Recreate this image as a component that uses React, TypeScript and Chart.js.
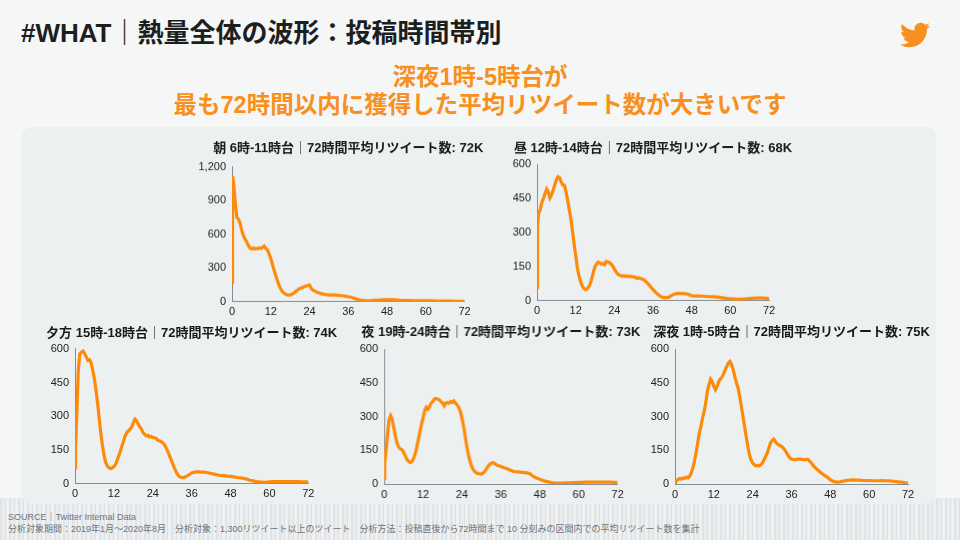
import React, { useEffect, useRef } from 'react';
import { Chart, registerables } from 'chart.js';

Chart.register(...registerables);

// hours after posting (finer steps at the start)
const hours = [
  0, 0.17,
  0.5, 1, 1.5, 2, 2.5, 3, 3.5, 4, 4.5, 5, 5.5, 6,
  6.5, 7, 7.5, 8, 8.5, 9, 9.5, 10, 10.5, 11, 11.5, 12,
  12.5, 13, 13.5, 14, 14.5, 15, 15.5, 16, 16.5, 17, 17.5, 18,
  18.5, 19, 19.5, 20, 20.5, 21, 21.5, 22, 22.5, 23, 23.5, 24,
  24.5, 25, 25.5, 26, 26.5, 27, 27.5, 28, 28.5, 29, 29.5, 30,
  30.5, 31, 31.5, 32, 32.5, 33, 33.5, 34, 34.5, 35, 35.5, 36,
  37, 38, 39, 40, 41, 42, 43, 44, 45, 46, 47, 48,
  49, 50, 51, 52, 53, 54, 55, 56, 57, 58, 59, 60,
  61, 62, 63, 64, 65, 66, 67, 68, 69, 70, 71, 72,
];

const xTicks = [0, 12, 24, 36, 48, 60, 72];

const morning = [
  175, 1120,
  1060, 880, 750, 735, 700, 640, 590, 560, 535, 505, 480, 470,
  478, 470, 476, 472, 480, 474, 485, 495, 475, 460, 425, 385,
  335, 285, 235, 193, 152, 118, 95, 80, 68, 62, 59, 60,
  65, 74, 84, 98, 108, 117, 124, 129, 136, 140, 146, 148,
  120, 105, 98, 90, 84, 78, 73, 69, 66, 63, 62, 60,
  60, 59, 61, 60, 58, 57, 55, 54, 52, 50, 47, 45,
  38, 30, 20, 12, 10, 9, 10, 12, 14, 16, 17, 18,
  18, 18, 16, 13, 11, 10, 10, 9, 9, 9, 9, 9,
  8, 8, 7, 6, 6, 6, 6, 6, 5, 5, 4, 3,
];

const noon = [
  59, 330,
  385, 400, 432, 450, 472, 491, 479, 452, 464, 486, 509, 531,
  545, 541, 523, 509, 508, 479, 442, 402, 361, 310, 251, 199,
  147, 111, 84, 66, 55, 49, 52, 59, 74, 96, 125, 150,
  162, 170, 165, 161, 164, 159, 172, 170, 167, 162, 152, 140,
  128, 118, 113, 111, 108, 110, 107, 109, 106, 108, 105, 106,
  103, 99, 101, 99, 96, 93, 88, 81, 74, 66, 57, 49,
  34, 22, 15, 13, 16, 25, 31, 32, 32, 31, 28, 22,
  21, 21, 20, 19, 18, 18, 17, 16, 14, 12, 10, 9,
  7, 6, 6, 7, 9, 10, 11, 12, 12, 12, 11, 10,
];

const evening = [
  71, 160,
  280, 503, 578, 585, 590, 578, 563, 548, 551, 536, 503, 466,
  414, 354, 287, 220, 168, 124, 94, 79, 71, 68, 71, 76,
  86, 104, 124, 146, 168, 191, 213, 228, 235, 243, 253, 272,
  287, 280, 265, 253, 243, 228, 220, 213, 216, 208, 211, 205,
  205, 202, 194, 191, 188, 183, 176, 164, 149, 131, 113, 94,
  76, 60, 45, 34, 30, 27, 28, 31, 34, 39, 43, 48,
  52, 54, 52, 52, 49, 46, 43, 39, 37, 36, 34, 33,
  31, 28, 27, 24, 21, 16, 13, 10, 9, 7, 7, 9,
  10, 10, 10, 10, 10, 10, 10, 10, 10, 9, 9, 9,
];

const night = [
  27, 90,
  138, 212, 286, 304, 286, 249, 212, 182, 164, 156, 153, 141,
  126, 111, 101, 96, 99, 111, 130, 160, 194, 230, 264, 293,
  327, 342, 333, 345, 360, 367, 378, 381, 378, 375, 367, 360,
  348, 360, 363, 360, 367, 363, 370, 360, 352, 342, 323, 293,
  256, 212, 167, 130, 101, 78, 64, 55, 49, 46, 46, 44,
  49, 56, 67, 78, 87, 93, 95, 93, 87, 83, 81, 78,
  73, 68, 61, 56, 55, 53, 52, 50, 46, 34, 27, 21,
  16, 12, 9, 6, 4, 4, 4, 6, 6, 7, 7, 8,
  8, 9, 9, 9, 9, 9, 9, 9, 9, 9, 8, 8,
];

const lateNight = [
  7, 12,
  16, 22, 25, 22, 27, 25, 31, 28, 34, 49, 71, 101,
  138, 182, 227, 256, 293, 323, 360, 412, 441, 467, 456, 434,
  419, 434, 456, 467, 475, 490, 508, 523, 538, 545, 530, 508,
  478, 449, 427, 390, 345, 301, 256, 212, 167, 130, 108, 93,
  86, 81, 84, 81, 86, 93, 108, 123, 138, 160, 182, 194,
  200, 190, 179, 175, 170, 167, 160, 150, 138, 126, 116, 111,
  108, 111, 111, 108, 111, 96, 78, 64, 52, 41, 31, 19,
  12, 9, 10, 13, 16, 18, 19, 18, 18, 16, 16, 16,
  15, 15, 15, 16, 15, 15, 13, 12, 10, 9, 7, 6,
];

const titles = [
  '朝 6時-11時台｜72時間平均リツイート数: 72K',
  '昼 12時-14時台｜72時間平均リツイート数: 68K',
  '夕方 15時-18時台｜72時間平均リツイート数: 74K',
  '夜 19時-24時台｜72時間平均リツイート数: 73K',
  '深夜 1時-5時台｜72時間平均リツイート数: 75K',
];
const seriesList = [morning, noon, evening, night, lateNight];
const yMaxes = [1200, 600, 600, 600, 600];
const ySteps = [300, 150, 150, 150, 150];

// where each small chart sits on the slide
const boxes = [
  { plotLeft: 231.5, plotTop: 167, plotW: 232.5, plotH: 134, titleY: 149 },
  { plotLeft: 537.3, plotTop: 164.3, plotW: 232, plotH: 135.7, titleY: 149 },
  { plotLeft: 75, plotTop: 348.3, plotW: 233.3, plotH: 135, titleY: 333.3 },
  { plotLeft: 384.3, plotTop: 349.3, plotW: 232.7, plotH: 135, titleY: 333 },
  { plotLeft: 675.3, plotTop: 349.3, plotW: 233, plotH: 135, titleY: 333 },
];

const FONT = '"Liberation Sans", "Noto Sans CJK JP", sans-serif';
const ORANGE = '#fd8b09';
const Y_W = 40;
const X_H = 20;
const TITLE_LH = 15.6;

type Box = { plotLeft: number; plotTop: number; plotW: number; plotH: number; titleY: number };

const MiniChart: React.FC<{ title: string; values: number[]; yMax: number; yStep: number; box: Box }> = ({
  title,
  values,
  yMax,
  yStep,
  box,
}) => {
  const chartRef = useRef<HTMLCanvasElement>(null);
  const chartInstance = useRef<Chart | null>(null);

  const top = box.titleY - TITLE_LH / 2;
  const titlePad = box.plotTop - top - TITLE_LH;
  const width = box.plotW + Y_W * 2;
  const height = TITLE_LH + titlePad + box.plotH + X_H;

  useEffect(() => {
    if (chartInstance.current) {
      chartInstance.current.destroy();
    }
    if (chartRef.current) {
      const ctx = chartRef.current.getContext('2d');
      if (ctx) {
        chartInstance.current = new Chart(ctx, {
          type: 'line',
          data: {
            datasets: [
              {
                data: hours.map((h, i) => ({ x: h, y: values[i] })),
                borderColor: ORANGE,
                borderWidth: 3.2,
                pointRadius: 0,
                tension: 0,
                fill: false,
              },
            ],
          },
          options: {
            responsive: true,
            maintainAspectRatio: false,
            animation: false,
            layout: { padding: 0 },
            plugins: {
              legend: { display: false },
              tooltip: { enabled: false },
              title: {
                display: true,
                text: title,
                color: '#1a1a1a',
                font: { family: FONT, size: 13, weight: 'bold', lineHeight: 1.2 },
                padding: { top: 0, bottom: titlePad },
              },
            },
            scales: {
              x: {
                type: 'linear',
                min: 0,
                max: 72,
                afterFit: (scale: any) => {
                  scale.height = X_H;
                },
                afterBuildTicks: (scale: any) => {
                  scale.ticks = xTicks.map((v) => ({ value: v }));
                },
                grid: { display: false, drawTicks: false },
                border: { display: true, color: '#8a8d8f', width: 1 },
                ticks: {
                  color: '#222',
                  padding: 4,
                  maxRotation: 0,
                  font: { family: FONT, size: 11 },
                },
              },
              y: {
                min: 0,
                max: yMax,
                afterFit: (scale: any) => {
                  scale.width = Y_W;
                },
                grid: { display: false, drawTicks: false },
                border: { display: true, color: '#8a8d8f', width: 1 },
                ticks: {
                  stepSize: yStep,
                  color: '#222',
                  padding: 6,
                  font: { family: FONT, size: 11 },
                  callback: (v: any) => Number(v).toLocaleString('en-US'),
                },
              },
              // empty right axis keeps the plot centred under its title
              spacer: {
                type: 'linear',
                position: 'right',
                display: true,
                afterFit: (scale: any) => {
                  scale.width = Y_W;
                },
                grid: { display: false, drawTicks: false },
                border: { display: false },
                ticks: { display: false },
              },
            },
          },
        });
      }
    }
    return () => {
      if (chartInstance.current) {
        chartInstance.current.destroy();
        chartInstance.current = null;
      }
    };
  }, [title, values, yMax, yStep]);

  return (
    <div
      style={{
        position: 'absolute',
        left: box.plotLeft - Y_W,
        top,
        width,
        height,
      }}
    >
      <canvas ref={chartRef}></canvas>
    </div>
  );
};

const TwitterBird: React.FC = () => (
  <svg
    viewBox="0 0 24 24"
    width={30}
    height={30}
    style={{ position: 'absolute', left: 900, top: 20 }}
  >
    <path
      fill="#f7901e"
      d="M23.953 4.57a10 10 0 01-2.825.775 4.958 4.958 0 002.163-2.723c-.951.555-2.005.959-3.127 1.184a4.92 4.92 0 00-8.384 4.482C7.69 8.095 4.067 6.13 1.64 3.162a4.822 4.822 0 00-.665 2.475c0 1.71.87 3.213 2.188 4.096a4.904 4.904 0 01-2.228-.616v.06a4.923 4.923 0 003.946 4.827 4.996 4.996 0 01-2.212.085 4.936 4.936 0 004.604 3.417 9.867 9.867 0 01-6.102 2.105c-.39 0-.779-.023-1.17-.067a13.995 13.995 0 007.557 2.209c9.053 0 13.998-7.496 13.998-13.985 0-.21 0-.42-.015-.63A9.935 9.935 0 0024 4.59z"
    />
  </svg>
);

export default function App() {
  return (
    <div
      style={{
        position: 'fixed',
        left: 0,
        top: 0,
        width: 960,
        height: 540,
        overflow: 'hidden',
        background: '#f5f6f6',
        fontFamily: FONT,
      }}
    >
      {/* textured strip along the bottom */}
      <div
        style={{
          position: 'absolute',
          left: 0,
          top: 498,
          width: 960,
          height: 42,
          background:
            'repeating-linear-gradient(90deg, #dde1e4 0px, #dde1e4 2px, #e9ecee 2px, #e9ecee 5px, #d9dee1 5px, #d9dee1 6px, #eef0f1 6px, #eef0f1 9px)',
          opacity: 0.9,
        }}
      />
      <div
        style={{
          position: 'absolute',
          left: 22,
          top: 127,
          width: 914,
          height: 377,
          borderRadius: 10,
          background: '#edf0f1',
        }}
      />
      <div
        style={{
          position: 'absolute',
          left: 21,
          top: 19,
          fontSize: 26,
          lineHeight: '28px',
          fontWeight: 'bold',
          color: '#1c1e20',
          whiteSpace: 'nowrap',
        }}
      >
        #WHAT｜熱量全体の波形：投稿時間帯別
      </div>
      <TwitterBird />
      <div
        style={{
          position: 'absolute',
          left: 0,
          top: 63,
          width: 960,
          textAlign: 'center',
          fontSize: 23.5,
          lineHeight: '28px',
          fontWeight: 'bold',
          color: '#f7901e',
        }}
      >
        深夜1時-5時台が
        <br />
        最も72時間以内に獲得した平均リツイート数が大きいです
      </div>
      {boxes.map((b, i) => (
        <MiniChart key={i} title={titles[i]} values={seriesList[i]} yMax={yMaxes[i]} yStep={ySteps[i]} box={b} />
      ))}
      <div
        style={{
          position: 'absolute',
          left: 8,
          top: 511,
          fontSize: 9,
          lineHeight: '12px',
          color: '#6f7375',
          whiteSpace: 'nowrap',
        }}
      >
        SOURCE｜Twitter Internal Data
        <br />
        分析対象期間：2019年1月〜2020年8月　分析対象：1,300リツイート以上のツイート　分析方法：投稿直後から72時間まで 10 分刻みの区間内での平均リツイート数を集計
      </div>
    </div>
  );
}
